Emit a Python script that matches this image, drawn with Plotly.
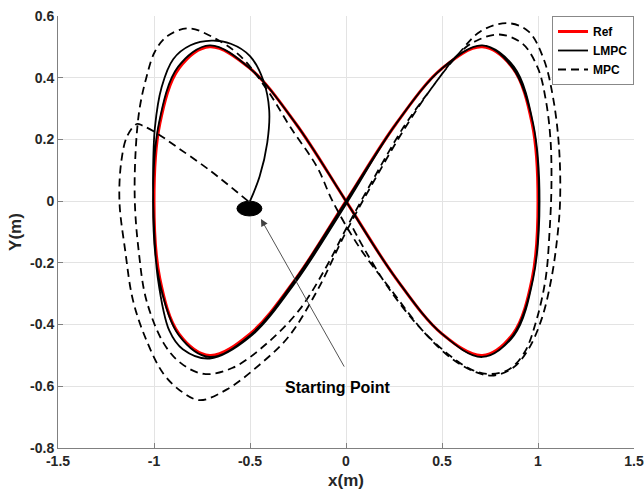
import plotly.graph_objects as go

# ---------------- data ----------------
REF_X = [0.0, 0.26, 0.5, 0.71, 0.87, 0.97, 1.0, 0.97, 0.87, 0.71, 0.5, 0.26,
         0.0, -0.26, -0.5, -0.71, -0.87, -0.97, -1.0, -0.97, -0.87, -0.71, -0.5, -0.26, 0.0]
REF_Y = [0.0, 0.25, 0.43, 0.50, 0.43, 0.25, 0.0, -0.25, -0.43, -0.50, -0.43, -0.25,
         0.0, 0.25, 0.43, 0.50, 0.43, 0.25, 0.0, -0.25, -0.43, -0.50, -0.43, -0.25, 0.0]

LMPC_X = [-0.50, -0.45, -0.41, -0.40, -0.43, -0.50, -0.60, -0.70, -0.81, -0.90, -0.96, -0.995,
          -1.005, -1.0, -0.98, -0.92, -0.85, -0.71, -0.50, -0.26, 0.0,
          0.26, 0.5, 0.71, 0.875, 0.975, 1.008, 0.975, 0.875, 0.71, 0.5, 0.26, 0.0,
          -0.26, -0.5, -0.71, -0.875, -0.975, -1.005, -0.975, -0.87, -0.71, -0.5, -0.26, 0.0,
          0.26, 0.5, 0.71, 0.87, 0.975, 1.005, 0.975, 0.87, 0.71, 0.5, 0.26, 0.0]
LMPC_Y = [0.0, 0.08, 0.19, 0.295, 0.39, 0.47, 0.51, 0.52, 0.505, 0.46, 0.37, 0.24,
          0.08, -0.08, -0.25, -0.42, -0.48, -0.51, -0.44, -0.26, -0.01,
          0.25, 0.43, 0.505, 0.435, 0.25, 0.0, -0.25, -0.435, -0.505, -0.43, -0.25, 0.0,
          0.25, 0.43, 0.505, 0.435, 0.25, 0.0, -0.25, -0.435, -0.505, -0.435, -0.25, 0.0,
          0.25, 0.43, 0.505, 0.43, 0.25, 0.0, -0.25, -0.435, -0.505, -0.43, -0.25, 0.0]

MPC_X = [-0.51, -0.71, -0.88, -0.985, -1.06, -1.09, -1.14, -1.17, -1.18, -1.15, -1.11, -1.04,
         -0.95, -0.85, -0.76, -0.62, -0.45, -0.30, -0.15, 0.0, 0.15, 0.30, 0.45, 0.59,
         0.70, 0.84, 0.95, 1.03, 1.08, 1.11, 1.115, 1.10, 1.07, 1.02, 0.95, 0.87, 0.77,
         0.68, 0.55, 0.40, 0.25, 0.07, -0.07, -0.15, -0.29, -0.41, -0.55, -0.69, -0.82,
         -0.93, -0.995, -1.04, -1.075, -1.095, -1.10, -1.08, -1.04, -0.95, -0.86, -0.74, -0.59,
         -0.41, -0.24, -0.10, 0.0, 0.15, 0.30, 0.45, 0.59, 0.68, 0.80, 0.92, 1.0, 1.04,
         1.065, 1.07, 1.06, 1.04, 0.99, 0.93, 0.85, 0.75, 0.65, 0.52, 0.37, 0.22, 0.10, 0.03]
MPC_Y = [0.0, 0.10, 0.175, 0.22, 0.245, 0.25, 0.21, 0.13, 0.0, -0.16, -0.32, -0.45,
         -0.56, -0.62, -0.645, -0.61, -0.53, -0.44, -0.29, -0.10, 0.07, 0.23, 0.37, 0.48,
         0.55, 0.577, 0.55, 0.46, 0.33, 0.17, 0.0, -0.12, -0.25, -0.38, -0.48, -0.54, -0.565,
         -0.555, -0.51, -0.42, -0.30, -0.15, 0.0, 0.11, 0.24, 0.36, 0.47, 0.53, 0.56,
         0.535, 0.485, 0.40, 0.30, 0.17, 0.0, -0.16, -0.32, -0.46, -0.525, -0.56, -0.54,
         -0.46, -0.35, -0.21, -0.09, 0.08, 0.24, 0.37, 0.48, 0.52, 0.54, 0.51, 0.43, 0.33,
         0.2, 0.05, -0.10, -0.25, -0.39, -0.49, -0.545, -0.56, -0.545, -0.49, -0.40, -0.28, -0.16, -0.08]

START_X = [-0.503]
START_Y = [-0.024]

X_TICKS = [-1.5, -1, -0.5, 0, 0.5, 1, 1.5]
X_TICKTEXT = ["-1.5", "-1", "-0.5", "0", "0.5", "1", "1.5"]
Y_TICKS = [-0.8, -0.6, -0.4, -0.2, 0, 0.2, 0.4, 0.6]
Y_TICKTEXT = ["-0.8", "-0.6", "-0.4", "-0.2", "0", "0.2", "0.4", "0.6"]

LABEL_X = [-0.04]
LABEL_Y = [-0.605]
ARROW_TAIL_X = [-0.005]
ARROW_TAIL_Y = [-0.541]
ARROW_HEAD_X = [-0.443]
ARROW_HEAD_Y = [-0.058]

# ---------------- style ----------------
FONT = "Liberation Sans, Arial, sans-serif"
TXT = "#262626"
AXIS = "#808080"
GRID = "#e3e3e3"
ELL_W = 0.13
ELL_H = 0.048

fig = go.Figure()
fig.add_trace(go.Scatter(x=REF_X, y=REF_Y, mode="lines", name="Ref",
                         line=dict(color="#ff0000", width=3, shape="spline", smoothing=1)))
fig.add_trace(go.Scatter(x=LMPC_X, y=LMPC_Y, mode="lines", name="LMPC",
                         line=dict(color="#000000", width=1.8, shape="spline", smoothing=1)))
fig.add_trace(go.Scatter(x=MPC_X, y=MPC_Y, mode="lines", name="MPC",
                         line=dict(color="#000000", width=1.8, dash="8px,5px",
                                   shape="spline", smoothing=1)))

fig.add_shape(type="circle", xref="x", yref="y",
              x0=START_X[0] - ELL_W / 2, x1=START_X[0] + ELL_W / 2,
              y0=START_Y[0] - ELL_H / 2, y1=START_Y[0] + ELL_H / 2,
              fillcolor="#000000", line=dict(color="#000000", width=1))

# arrow
fig.add_annotation(x=ARROW_HEAD_X[0], y=ARROW_HEAD_Y[0], ax=ARROW_TAIL_X[0], ay=ARROW_TAIL_Y[0],
                   xref="x", yref="y", axref="x", ayref="y",
                   text="", showarrow=True, arrowhead=2, arrowsize=1.6,
                   arrowwidth=0.9, arrowcolor="#404040", standoff=0, startstandoff=0)
# label
fig.add_annotation(x=LABEL_X[0], y=LABEL_Y[0], xref="x", yref="y",
                   text="Starting Point", showarrow=False,
                   font=dict(family=FONT, size=16, color="#000000", weight="bold"))

axis_common = dict(showline=True, linecolor=AXIS, linewidth=1, mirror=False,
                   ticks="inside", ticklen=5, tickcolor=AXIS, automargin=False,
                   showgrid=True, gridcolor=GRID, gridwidth=1, zeroline=False,
                   tickfont=dict(family=FONT, size=14, color=TXT, weight="bold"))

fig.update_xaxes(range=[-1.5, 1.5], tickvals=X_TICKS, ticktext=X_TICKTEXT,
                 title=dict(text="x(m)", standoff=6,
                            font=dict(family=FONT, size=17, color=TXT, weight="bold")),
                 **axis_common)
fig.update_yaxes(range=[-0.8, 0.6], tickvals=Y_TICKS, ticktext=Y_TICKTEXT,
                 title=dict(text="Y(m)", standoff=4,
                            font=dict(family=FONT, size=17, color=TXT, weight="bold")),
                 **axis_common)

fig.update_layout(
    width=644, height=497,
    margin=dict(l=58, r=10, t=16, b=49),
    plot_bgcolor="white", paper_bgcolor="white",
    font=dict(family=FONT, color=TXT),
    legend=dict(x=1, y=1, xanchor="right", yanchor="top",
                bgcolor="white", bordercolor="#888888", borderwidth=1,
                font=dict(family=FONT, size=12, color="#000000", weight="bold"),
                itemwidth=30, tracegroupgap=0),
    showlegend=True,
)

fig.write_html("out.html", config={"displayModeBar": False},
               post_script="document.body.style.margin='0';document.body.style.overflow='hidden';")
